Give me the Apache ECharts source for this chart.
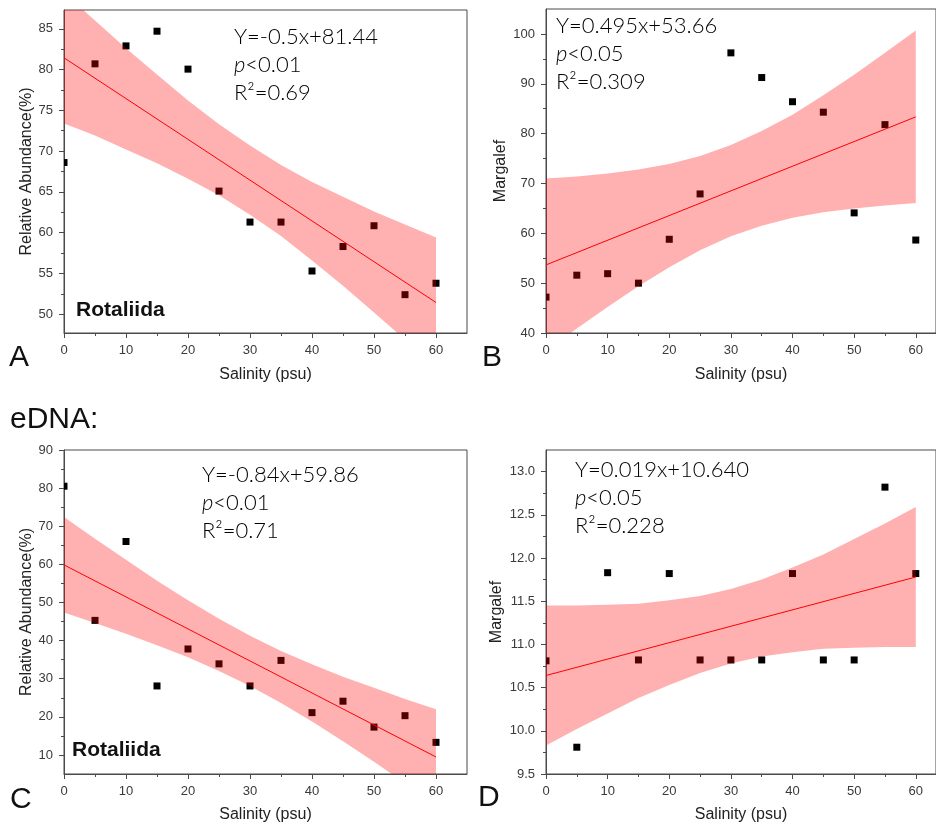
<!DOCTYPE html>
<html>
<head>
<meta charset="utf-8">
<script src="https://cdn.jsdelivr.net/npm/echarts@6/dist/echarts.min.js"></script>
<style>
  html, body { margin: 0; padding: 0; background: #fff; }
  #chart { width: 936px; height: 827px; }
</style>
</head>
<body>
<div id="chart"></div>
<script>
// salinity steps (psu)
const salinity = [0, 5, 10, 15, 20, 25, 30, 35, 40, 45, 50, 55, 60];

// A: morphology, Rotaliida relative abundance
const morphAbundance = [68.6, 80.7, 82.9, 84.7, 80.05, 65.1, 61.3, 61.3, 55.3, 58.3, 60.85, 52.4, 53.8];
const morphAbundUpper = [89.4, 86.0, 82.6, 79.4, 76.2, 73.3, 70.7, 68.3, 66.2, 64.4, 62.6, 61.0, 59.4];
const morphAbundLower = [73.4, 71.9, 70.2, 68.5, 66.6, 64.6, 62.2, 59.6, 56.6, 53.5, 50.2, 46.9, 43.4];
const morphAbundFit = [81.44, 51.44];

// B: morphology, Margalef
const morphMargalef = [47.2, 51.6, 51.9, 50.0, 58.8, 67.9, 96.2, 91.25, 86.4, 84.3, 64.1, 81.8, 58.65];
const morphMargUpper = [71.0, 71.4, 72.0, 72.8, 73.9, 75.5, 77.7, 80.5, 83.8, 87.7, 91.8, 96.2, 100.7];
const morphMargLower = [36.4, 40.9, 45.2, 49.4, 53.2, 56.6, 59.4, 61.5, 63.1, 64.2, 65.0, 65.6, 66.1];
const morphMargFit = [53.66, 83.36];

// C: eDNA, Rotaliida relative abundance
const ednaAbundance = [80.5, 45.3, 66.0, 28.1, 37.8, 33.9, 28.1, 34.8, 21.1, 24.1, 17.3, 20.3, 13.3];
const ednaAbundUpper = [72.4, 66.7, 61.2, 55.7, 50.6, 45.7, 41.3, 37.3, 33.8, 30.5, 27.6, 24.7, 22.0];
const ednaAbundLower = [47.4, 44.6, 41.8, 38.8, 35.6, 32.0, 28.1, 23.6, 18.8, 13.6, 8.2, 2.6, -3.0];
const ednaAbundFit = [59.86, 9.46];

// D: eDNA, Margalef
const ednaMargalef = [10.81, 9.81, 11.83, 10.82, 11.82, 10.82, 10.82, 10.82, 11.82, 10.82, 10.82, 12.82, 11.82];
const ednaMargUpper = [11.45, 11.45, 11.46, 11.47, 11.51, 11.56, 11.64, 11.75, 11.89, 12.04, 12.22, 12.40, 12.59];
const ednaMargLower = [9.83, 10.02, 10.20, 10.38, 10.53, 10.67, 10.78, 10.86, 10.91, 10.95, 10.96, 10.97, 10.97];
const ednaMargFit = [10.64, 11.78];

// tick values
const xMajor = [0, 10, 20, 30, 40, 50, 60];
const xMinor = [5, 15, 25, 35, 45, 55];
const aMajor = [50, 55, 60, 65, 70, 75, 80, 85];
const aMinor = [52.5, 57.5, 62.5, 67.5, 72.5, 77.5, 82.5];
const bMajor = [40, 50, 60, 70, 80, 90, 100];
const bMinor = [45, 55, 65, 75, 85, 95];
const cMajor = [10, 20, 30, 40, 50, 60, 70, 80, 90];
const cMinor = [15, 25, 35, 45, 55, 65, 75, 85];
const dMajor = [9.5, 10.0, 10.5, 11.0, 11.5, 12.0, 12.5, 13.0];
const dMinor = [9.75, 10.25, 10.75, 11.25, 11.75, 12.25, 12.75];

const panels = [
  { grid: { left: 64, top: 10, width: 403, height: 323 }, xMax: 65, yMin: 47.7, yMax: 87.3,
    yMajor: aMajor, yMinor: aMinor, yName: 'Relative Abundance(%)', yGap: 27, xGap: 34,
    pts: morphAbundance, up: morphAbundUpper, lo: morphAbundLower, fit: morphAbundFit, fmt: v => v },
  { grid: { left: 546, top: 9, width: 392, height: 324 }, xMax: 63.28, yMin: 40, yMax: 105,
    yMajor: bMajor, yMinor: bMinor, yName: 'Margalef', yGap: 37, xGap: 34,
    pts: morphMargalef, up: morphMargUpper, lo: morphMargLower, fit: morphMargFit, fmt: v => v },
  { grid: { left: 64, top: 450, width: 403, height: 324 }, xMax: 65, yMin: 5, yMax: 90,
    yMajor: cMajor, yMinor: cMinor, yName: 'Relative Abundance(%)', yGap: 27, xGap: 33,
    pts: ednaAbundance, up: ednaAbundUpper, lo: ednaAbundLower, fit: ednaAbundFit, fmt: v => v },
  { grid: { left: 546, top: 450, width: 392, height: 324 }, xMax: 63.28, yMin: 9.5, yMax: 13.25,
    yMajor: dMajor, yMinor: dMinor, yName: 'Margalef', yGap: 41, xGap: 33,
    pts: ednaMargalef, up: ednaMargUpper, lo: ednaMargLower, fit: ednaMargFit, fmt: v => v.toFixed(1) }
];

const axisColor = '#4a4a4a';
const labelFont = 'Liberation Sans';

const grids = [], xAxes = [], yAxes = [], series = [];
panels.forEach((p, g) => {
  grids.push(Object.assign({ show: true, borderColor: axisColor, borderWidth: 1, backgroundColor: 'transparent' }, p.grid));
  xAxes.push({
    type: 'value', gridIndex: g, position: 'bottom', min: 0, max: p.xMax,
    axisLine: { lineStyle: { color: axisColor } },
    axisTick: { customValues: xMajor, length: 5, lineStyle: { color: axisColor } },
    axisLabel: { customValues: xMajor, color: '#3a3a3a', fontSize: 13, fontFamily: labelFont, margin: 11 },
    splitLine: { show: false },
    name: 'Salinity (psu)', nameLocation: 'middle', nameGap: p.xGap,
    nameTextStyle: { color: '#222', fontSize: 16, fontFamily: labelFont }
  });
  xAxes.push({
    type: 'value', gridIndex: g, position: 'bottom', min: 0, max: p.xMax,
    axisLine: { show: false },
    axisTick: { customValues: xMinor, length: 3, lineStyle: { color: axisColor } },
    axisLabel: { show: false }, splitLine: { show: false }
  });
  yAxes.push({
    type: 'value', gridIndex: g, position: 'left', min: p.yMin, max: p.yMax,
    axisLine: { show: true, lineStyle: { color: axisColor } },
    axisTick: { show: true, customValues: p.yMajor, length: 5, lineStyle: { color: axisColor } },
    axisLabel: { customValues: p.yMajor, color: '#3a3a3a', fontSize: 13, fontFamily: labelFont, margin: 11,
      formatter: p.fmt },
    splitLine: { show: false },
    name: p.yName, nameLocation: 'middle', nameGap: p.yGap,
    nameTextStyle: { color: '#222', fontSize: 16, fontFamily: labelFont }
  });
  yAxes.push({
    type: 'value', gridIndex: g, position: 'left', min: p.yMin, max: p.yMax,
    axisLine: { show: false },
    axisTick: { show: true, customValues: p.yMinor, length: 3, lineStyle: { color: axisColor } },
    axisLabel: { show: false }, splitLine: { show: false }
  });
  const xi = 2 * g, yi = 2 * g;
  // square markers, clipped by the plot frame like the original
  series.push({
    type: 'custom', xAxisIndex: xi, yAxisIndex: yi, z: 1, clip: true,
    data: salinity.map((x, i) => [x, p.pts[i]]),
    renderItem: (params, api) => {
      const c = api.coord([api.value(0), api.value(1)]);
      return { type: 'rect', shape: { x: c[0] - 3.5, y: c[1] - 3.5, width: 7, height: 7 },
        style: { fill: '#000' } };
    }
  });
  // confidence band: polygon through upper edge then lower edge reversed
  series.push({
    type: 'custom', xAxisIndex: xi, yAxisIndex: yi, z: 2, clip: true, silent: true,
    data: [[salinity[0], p.lo[0]]],
    renderItem: (params, api) => {
      const top = salinity.map((x, i) => api.coord([x, p.up[i]]));
      const bot = salinity.map((x, i) => api.coord([x, p.lo[i]])).reverse();
      return { type: 'polygon', shape: { points: top.concat(bot) },
        style: { fill: 'rgba(255,0,0,0.31)' } };
    }
  });
  series.push({
    type: 'line', xAxisIndex: xi, yAxisIndex: yi, z: 3, symbol: 'none',
    lineStyle: { color: '#ff0000', width: 1 },
    data: [[salinity[0], p.fit[0]], [salinity[salinity.length - 1], p.fit[1]]]
  });
});

const annoRich = {
  n: { fontSize: 22, fontFamily: 'Lato', fontWeight: 300, color: '#1a1a1a', lineHeight: 28 },
  i: { fontSize: 22, fontFamily: 'Lato', fontWeight: 300, fontStyle: 'italic', color: '#1a1a1a', lineHeight: 28 }
};
function anno(x, y, eq, p, r2) {
  return { type: 'text', x: x, y: y, z: 10,
    style: { text: '{n|' + eq + '}\n{i|p}{n|' + p + '}\n{n|R²=' + r2 + '}', rich: annoRich, verticalAlign: 'top' } };
}
function txt(x, y, s, size, weight) {
  return { type: 'text', x: x, y: y, z: 10,
    style: { text: s, fontSize: size, fontWeight: weight || 'normal', fontFamily: labelFont, fill: '#111', verticalAlign: 'middle' } };
}

const chart = echarts.init(document.getElementById('chart'), null, { renderer: 'canvas' });
chart.setOption({
  animation: false,
  backgroundColor: '#fff',
  grid: grids,
  xAxis: xAxes,
  yAxis: yAxes,
  series: series,
  graphic: [
    anno(234, 23, 'Y=-0.5x+81.44', '<0.01', '0.69'),
    anno(556, 12, 'Y=0.495x+53.66', '<0.05', '0.309'),
    anno(202, 461, 'Y=-0.84x+59.86', '<0.01', '0.71'),
    anno(575, 456, 'Y=0.019x+10.640', '<0.05', '0.228'),
    txt(76, 310, 'Rotaliida', 21, 'bold'),
    txt(72, 750, 'Rotaliida', 21, 'bold'),
    txt(9, 358, 'A', 30),
    txt(482, 358, 'B', 30),
    txt(10, 420, 'eDNA:', 30),
    txt(10, 800, 'C', 30),
    txt(478, 798, 'D', 30)
  ]
});
</script>
</body>
</html>
